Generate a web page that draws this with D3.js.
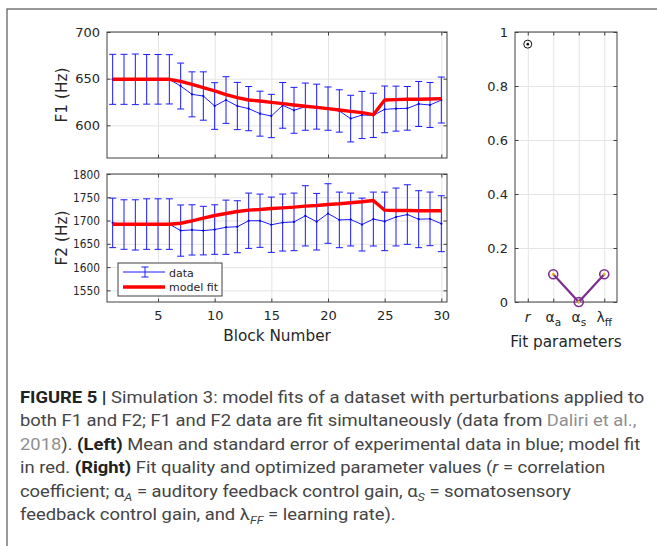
<!DOCTYPE html>
<meta charset="utf-8">
<style>
  body { margin: 0; background: #fff; }
  svg { display: block; }
  .axis text, .lbl { font-family: "DejaVu Sans", sans-serif; fill: #262626; }
  .axis path { display: none; }
  .axis line { stroke: #404040; }
  .grid line { stroke: #e4e4e4; }
  .grid path { display: none; }
  .cap { font-family: "Roboto", "Liberation Sans", sans-serif; font-size: 16px; fill: #454545; white-space: pre; }
</style>
<svg width="657" height="546"></svg>
<script src="https://d3js.org/d3.v7.min.js"></script>
<script>
  // block numbers
  var blocks = [1, 2, 3, 4, 5, 6, 7, 8, 9, 10, 11, 12, 13, 14, 15, 16, 17, 18, 19, 20,
    21, 22, 23, 24, 25, 26, 27, 28, 29, 30];

  // F1 data (mean, standard error) and model fit
  var f1Mean = [649.3, 649.3, 649.3, 649.3, 649.3, 649.3, 642.1, 633.2, 631.4, 620.7,
    627.1, 620.7, 617.9, 612.5, 610.0, 621.4, 616.1, 620.0, 620.0, 617.9,
    615.4, 607.2, 611.1, 610.7, 617.1, 617.9, 618.2, 622.9, 621.8, 627.1];
  var f1Err = [26.8, 26.8, 27.1, 26.6, 26.6, 26.4, 24.6, 24.1, 25.9, 25.0,
    25.0, 25.3, 23.7, 24.1, 23.2, 24.5, 24.6, 25.3, 24.1, 23.2,
    22.7, 25.0, 25.3, 23.7, 25.0, 24.1, 23.4, 24.1, 24.1, 24.6];
  var f1Fit = [649.3, 649.3, 649.3, 649.3, 649.3, 649.3, 647.1, 643.9, 640.4, 636.8,
    632.9, 629.6, 627.1, 626.1, 624.6, 623.2, 621.8, 620.4, 619.3, 617.9,
    616.4, 615.0, 613.6, 611.4, 627.1, 627.5, 627.9, 627.9, 628.2, 628.6];

  // F2 data (mean, standard error) and model fit
  var f2Mean = [1695.0, 1691.4, 1690.6, 1692.4, 1692.4, 1692.4, 1678.4, 1679.9, 1678.4, 1680.6,
    1685.6, 1686.7, 1699.6, 1699.6, 1691.0, 1695.7, 1697.1, 1710.1, 1697.5, 1715.1,
    1701.4, 1702.2, 1691.4, 1703.2, 1698.2, 1707.6, 1712.9, 1702.9, 1703.6, 1693.2];
  var f2Err = [53.2, 53.2, 54.0, 54.3, 54.3, 54.3, 55.0, 54.0, 52.2, 53.2,
    58.3, 55.8, 59.4, 57.2, 59.4, 61.2, 61.9, 64.7, 60.8, 64.0,
    59.7, 56.8, 56.8, 57.9, 62.9, 62.2, 64.0, 61.2, 57.6, 60.1];
  var f2Fit = [1692.1, 1692.1, 1692.1, 1692.1, 1692.1, 1692.1, 1694.2, 1699.3, 1705.0, 1710.8,
    1715.1, 1719.4, 1722.3, 1723.7, 1725.9, 1727.3, 1728.8, 1730.9, 1732.4, 1734.5,
    1736.0, 1738.1, 1740.3, 1743.2, 1722.3, 1721.6, 1721.6, 1720.9, 1720.9, 1720.9];

  // fit parameters
  var paramNames = [["r", ""], ["α", "a"], ["α", "s"], ["λ", "ff"]];
  var paramValues = [0.955, 0.103, 0.0, 0.103];

  // tick values
  var xTicks = [5, 10, 15, 20, 25, 30];
  var f1Ticks = [600, 650, 700];
  var f2Ticks = [1550, 1600, 1650, 1700, 1750, 1800];
  var pTicks = [0, 0.2, 0.4, 0.6, 0.8, 1];

  var svg = d3.select("svg");
  var fs = 13;

  // page frame
  svg.append("rect").attr("x", 7).attr("y", 9).attr("width", 700).attr("height", 600)
    .attr("fill", "none").attr("stroke", "#555").attr("stroke-width", 1.2);

  var x = d3.scaleLinear().domain([0.5, 30.5]).range([107, 447]);
  var yF1 = d3.scaleLinear().domain([565, 700]).range([158, 32]);
  var yF2 = d3.scaleLinear().domain([1525, 1800]).range([302, 174]);

  function styleAxis(sel) {
    sel.attr("class", "axis").attr("font-family", null)
      .selectAll("text").style("font-size", fs + "px");
  }

  function drawPanel(y, means, errs, fit, yTicks, showX, label) {
    var bot = y.range()[0], top = y.range()[1], left = x.range()[0], right = x.range()[1];
    var g = svg.append("g");

    g.append("g").attr("class", "grid").attr("transform", "translate(0," + bot + ")")
      .call(d3.axisBottom(x).tickValues(xTicks).tickSize(-(bot - top)).tickFormat(""));
    g.append("g").attr("class", "grid").attr("transform", "translate(" + left + ",0)")
      .call(d3.axisLeft(y).tickValues(yTicks).tickSize(-(right - left)).tickFormat(""));

    // error bars
    var eb = g.selectAll(".eb").data(blocks).join("g").attr("stroke", "#1a1aff").attr("stroke-width", 1);
    eb.append("line")
      .attr("x1", d => x(d)).attr("x2", d => x(d))
      .attr("y1", (d, i) => y(means[i] - errs[i])).attr("y2", (d, i) => y(means[i] + errs[i]));
    eb.append("line")
      .attr("x1", d => x(d) - 3.5).attr("x2", d => x(d) + 3.5)
      .attr("y1", (d, i) => y(means[i] + errs[i])).attr("y2", (d, i) => y(means[i] + errs[i]));
    eb.append("line")
      .attr("x1", d => x(d) - 3.5).attr("x2", d => x(d) + 3.5)
      .attr("y1", (d, i) => y(means[i] - errs[i])).attr("y2", (d, i) => y(means[i] - errs[i]));

    var line = d3.line().x((d, i) => x(blocks[i])).y(d => y(d));
    g.append("path").datum(means).attr("d", line)
      .attr("fill", "none").attr("stroke", "#0000ff").attr("stroke-width", 0.9);
    g.selectAll(".pt").data(means).join("circle")
      .attr("cx", (d, i) => x(blocks[i])).attr("cy", d => y(d)).attr("r", 1.1).attr("fill", "#0000ff");

    g.append("path").datum(fit).attr("d", line)
      .attr("fill", "none").attr("stroke", "#ff0000").attr("stroke-width", 3.4)
      .attr("stroke-linejoin", "round");

    // box and ticks
    g.append("rect").attr("x", left).attr("y", top).attr("width", right - left).attr("height", bot - top)
      .attr("fill", "none").attr("stroke", "#404040").attr("stroke-width", 1);
    var ya = g.append("g").attr("transform", "translate(" + left + ",0)")
      .call(d3.axisLeft(y).tickValues(yTicks).tickSize(-3.5).tickPadding(7).tickFormat(d3.format("d")))
      .call(styleAxis);
    // 4-digit labels are set narrower, as in the original figure
    ya.selectAll("text").filter(d => d >= 1000)
      .attr("textLength", 27).attr("lengthAdjust", "spacingAndGlyphs");
    g.append("g").attr("transform", "translate(" + right + ",0)")
      .call(d3.axisRight(y).tickValues(yTicks).tickSize(-3.5).tickFormat("")).call(styleAxis);
    g.append("g").attr("transform", "translate(0," + bot + ")")
      .call(d3.axisBottom(x).tickValues(xTicks).tickSize(-3.5).tickPadding(9)
        .tickFormat(showX ? d3.format("d") : "")).call(styleAxis);
    g.append("g").attr("transform", "translate(0," + top + ")")
      .call(d3.axisTop(x).tickValues(xTicks).tickSize(-3.5).tickFormat("")).call(styleAxis);

    g.append("text").attr("class", "lbl")
      .attr("transform", "translate(67," + (top + bot) / 2 + ") rotate(-90)")
      .attr("text-anchor", "middle").style("font-size", "15.3px").text(label);
    return g;
  }

  drawPanel(yF1, f1Mean, f1Err, f1Fit, f1Ticks, false, "F1 (Hz)");
  var g2 = drawPanel(yF2, f2Mean, f2Err, f2Fit, f2Ticks, true, "F2 (Hz)");

  svg.append("text").attr("class", "lbl").attr("x", 277).attr("y", 341)
    .attr("text-anchor", "middle").style("font-size", "15.3px").text("Block Number");

  // legend
  var lg = g2.append("g").attr("transform", "translate(118,263)");
  lg.append("rect").attr("width", 104).attr("height", 33).attr("fill", "#fff").attr("stroke", "#404040");
  lg.append("line").attr("x1", 5).attr("x2", 47).attr("y1", 9).attr("y2", 9)
    .attr("stroke", "#0000ff").attr("stroke-width", 0.9);
  lg.append("line").attr("x1", 27).attr("x2", 27).attr("y1", 4).attr("y2", 14).attr("stroke", "#1a1aff");
  lg.append("line").attr("x1", 23.5).attr("x2", 30.5).attr("y1", 4).attr("y2", 4).attr("stroke", "#1a1aff");
  lg.append("line").attr("x1", 23.5).attr("x2", 30.5).attr("y1", 14).attr("y2", 14).attr("stroke", "#1a1aff");
  lg.append("line").attr("x1", 5).attr("x2", 47).attr("y1", 24).attr("y2", 24)
    .attr("stroke", "#ff0000").attr("stroke-width", 3.4);
  lg.append("text").attr("class", "lbl").attr("x", 51).attr("y", 13.5).style("font-size", "11px").text("data");
  lg.append("text").attr("class", "lbl").attr("x", 51).attr("y", 28).style("font-size", "11px").text("model fit");

  // right panel: fit parameters
  var xP = d3.scaleLinear().domain([0.5, 4.5]).range([515, 617]);
  var yP = d3.scaleLinear().domain([0, 1]).range([302, 32]);
  var pIdx = [1, 2, 3, 4];
  var gp = svg.append("g");
  gp.append("g").attr("class", "grid").attr("transform", "translate(0,302)")
    .call(d3.axisBottom(xP).tickValues(pIdx).tickSize(-270).tickFormat(""));
  gp.append("g").attr("class", "grid").attr("transform", "translate(515,0)")
    .call(d3.axisLeft(yP).tickValues(pTicks).tickSize(-102).tickFormat(""));
  gp.append("rect").attr("x", 515).attr("y", 32).attr("width", 102).attr("height", 270)
    .attr("fill", "none").attr("stroke", "#404040");
  gp.append("g").attr("transform", "translate(515,0)")
    .call(d3.axisLeft(yP).tickValues(pTicks).tickSize(-3.5).tickPadding(7).tickFormat(d => String(d)))
    .call(styleAxis);
  gp.append("g").attr("transform", "translate(617,0)")
    .call(d3.axisRight(yP).tickValues(pTicks).tickSize(-3.5).tickFormat("")).call(styleAxis);
  gp.append("g").attr("transform", "translate(0,302)")
    .call(d3.axisBottom(xP).tickValues(pIdx).tickSize(-3.5).tickFormat("")).call(styleAxis);
  gp.append("g").attr("transform", "translate(0,32)")
    .call(d3.axisTop(xP).tickValues(pIdx).tickSize(-3.5).tickFormat("")).call(styleAxis);

  // r marker
  gp.append("circle").attr("cx", xP(1)).attr("cy", yP(paramValues[0])).attr("r", 4)
    .attr("fill", "none").attr("stroke", "#111").attr("stroke-width", 1);
  gp.append("circle").attr("cx", xP(1)).attr("cy", yP(paramValues[0])).attr("r", 1.3).attr("fill", "#111");

  // gains and learning rate
  var gains = paramValues.slice(1);
  gp.append("path").datum(gains)
    .attr("d", d3.line().x((d, i) => xP(i + 2)).y(d => yP(d)))
    .attr("fill", "none").attr("stroke", "#7e2f8e").attr("stroke-width", 2.2);
  gp.selectAll(".pd").data(gains).join("circle")
    .attr("cx", (d, i) => xP(i + 2)).attr("cy", d => yP(d)).attr("r", 1.4).attr("fill", "#edb120");
  gp.selectAll(".pc").data(gains).join("circle")
    .attr("cx", (d, i) => xP(i + 2)).attr("cy", d => yP(d)).attr("r", 4.5)
    .attr("fill", "none").attr("stroke", "#7e2f8e").attr("stroke-width", 1.6);

  // parameter tick labels
  paramNames.forEach(function (p, i) {
    var t = gp.append("text").attr("class", "lbl").attr("x", xP(i + 1)).attr("y", 322)
      .attr("text-anchor", "middle").style("font-size", "14px");
    t.append("tspan").style("font-style", i === 0 ? "italic" : "normal").text(p[0]);
    if (p[1]) t.append("tspan").attr("dy", 4).style("font-size", "10.5px").text(p[1]);
  });
  svg.append("text").attr("class", "lbl").attr("x", 566).attr("y", 347)
    .attr("text-anchor", "middle").style("font-size", "15.3px").text("Fit parameters");

  // caption
  var caption = [
    [{ t: "FIGURE 5 | ", b: 1 }, { t: "Simulation 3: model fits of a dataset with perturbations applied to" }],
    [{ t: "both F1 and F2; F1 and F2 data are fit simultaneously (data from " }, { t: "Daliri et al.,", link: 1 }],
    [{ t: "2018", link: 1 }, { t: "). " }, { t: "(Left)", b: 1 }, { t: " Mean and standard error of experimental data in blue; model fit" }],
    [{ t: "in red. " }, { t: "(Right)", b: 1 }, { t: " Fit quality and optimized parameter values (" }, { t: "r", i: 1 }, { t: " = correlation" }],
    [{ t: "coefficient; α" }, { t: "A", i: 1, sub: 1 }, { t: " = auditory feedback control gain, α" }, { t: "S", i: 1, sub: 1 }, { t: " = somatosensory" }],
    [{ t: "feedback control gain, and λ" }, { t: "FF", i: 1, sub: 1 }, { t: " = learning rate)." }]
  ];
  var baselines = [402.5, 426, 449.5, 473, 496.5, 520];
  var capTexts = caption.map(function (segs, li) {
    var t = svg.append("text").attr("class", "cap").attr("x", 0).attr("y", 0);
    var shifted = false;
    segs.forEach(function (s) {
      var ts = t.append("tspan").text(s.t);
      if (s.b) ts.style("font-weight", "bold").style("fill", "#222");
      if (s.i) ts.style("font-style", "italic");
      if (s.link) ts.style("fill", "#8f8f8f");
      if (s.sub) { ts.attr("dy", 4).style("font-size", "11px"); shifted = true; }
      else if (shifted) { ts.attr("dy", -4); shifted = false; }
    });
    return t;
  });
  var sx = 625 / capTexts[0].node().getComputedTextLength();
  capTexts.forEach(function (t, i) {
    t.attr("transform", "translate(20," + baselines[i] + ") scale(" + sx + ",1)");
  });
</script>
